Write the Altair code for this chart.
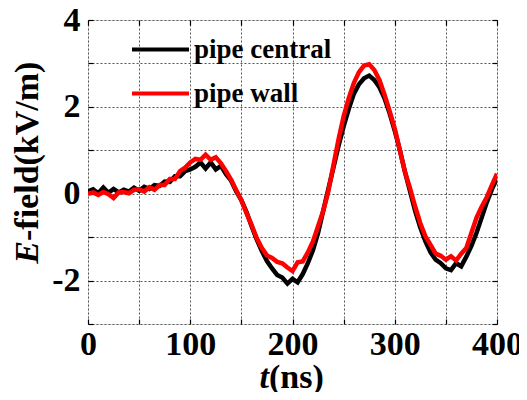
import altair as alt
import pandas as pd

# ---------------- data ----------------
time_ns = list(range(0, 401, 5))

pipe_central = [
    0.05, 0.10, 0.01, 0.14, 0.02, 0.11, 0.03, 0.09, 0.05, 0.14,
    0.07, 0.16, 0.11, 0.20, 0.18, 0.28, 0.27, 0.40, 0.40, 0.52,
    0.56, 0.62, 0.72, 0.58, 0.72, 0.56, 0.64, 0.45, 0.30, 0.05,
    -0.15, -0.42, -0.75, -1.05, -1.32, -1.55, -1.72, -1.87, -1.93, -2.07,
    -1.96, -2.04, -1.85, -1.60, -1.30, -0.90, -0.40, 0.10, 0.60, 1.10,
    1.55, 1.95, 2.30, 2.52, 2.66, 2.72, 2.62, 2.45, 2.20, 1.85,
    1.45, 1.00, 0.50, 0.05, -0.40, -0.78, -1.10, -1.35, -1.52, -1.60,
    -1.72, -1.76, -1.60, -1.67, -1.45, -1.20, -0.90, -0.55, -0.20, 0.10,
    0.35,
]

pipe_wall = [
    0.00, 0.03, -0.03, 0.04, -0.01, -0.10, 0.03, 0.04, 0.01, 0.09,
    0.10, 0.05, 0.15, 0.09, 0.20, 0.20, 0.34, 0.34, 0.52, 0.60,
    0.72, 0.80, 0.78, 0.90, 0.78, 0.84, 0.70, 0.52, 0.32, 0.08,
    -0.15, -0.45, -0.72, -1.02, -1.25, -1.42, -1.48, -1.57, -1.60, -1.70,
    -1.78, -1.58, -1.56, -1.35, -1.10, -0.75, -0.40, 0.05, 0.65, 1.25,
    1.78, 2.20, 2.55, 2.80, 2.95, 2.98, 2.85, 2.62, 2.28, 1.90,
    1.50, 1.00, 0.50, 0.12, -0.30, -0.68, -0.98, -1.18, -1.38, -1.43,
    -1.52, -1.44, -1.54, -1.38, -1.25, -0.90, -0.55, -0.30, -0.08, 0.20,
    0.46,
]

series_names = ["pipe central", "pipe wall"]
series_colors = ["#000000", "#ff0000"]
x_ticks = [0, 50, 100, 150, 200, 250, 300, 350, 400]
y_ticks = [-3, -2, -1, 0, 1, 2, 3, 4]

df = pd.DataFrame({
    "t": time_ns + time_ns,
    "E": pipe_central + pipe_wall,
    "series": [series_names[0]] * len(time_ns) + [series_names[1]] * len(time_ns),
})

FONT = "Liberation Serif, Times New Roman, serif"
W, H = 409, 304

x_scale = alt.Scale(domain=[0, 400], nice=False, zero=False)
y_scale = alt.Scale(domain=[-3, 4], nice=False, zero=False)

common_axis = dict(
    tickSize=5, offset=-5, domain=False, tickColor="black", tickWidth=1.2,
    labelFont=FONT, labelFontSize=34, labelFontWeight="bold", labelColor="black",
    labelOverlap=False, labelFlush=False, title=None,
)

lines = alt.Chart(df).mark_line(strokeWidth=4.5, clip=True).encode(
    x=alt.X("t:Q", scale=x_scale, axis=alt.Axis(
        orient="bottom", values=x_ticks, grid=True, gridDash=[2, 2],
        gridColor="#555555", gridWidth=1, labelPadding=3,
        labelExpr="datum.value % 100 == 0 ? datum.label : ''", **common_axis)),
    y=alt.Y("E:Q", scale=y_scale, axis=alt.Axis(
        orient="left", values=y_ticks, grid=True, gridDash=[2, 2],
        gridColor="#555555", gridWidth=1, labelPadding=8,
        labelExpr="datum.value % 2 == 0 ? (datum.value < 0 ? '-' + abs(datum.value) : '' + datum.value) : ''",
        **common_axis)),
    color=alt.Color("series:N", scale=alt.Scale(domain=series_names, range=series_colors),
                    legend=alt.Legend(
                        orient="none", legendX=42, legendY=-1, title=None,
                        symbolType="stroke", symbolSize=3249, symbolStrokeWidth=4,
                        labelFont=FONT, labelFontSize=27, labelFontWeight="bold",
                        labelColor="black", labelOffset=3, rowPadding=-8, padding=0)),
)

frame_ticks = alt.Chart(df).mark_line(opacity=0).encode(
    x=alt.X("t:Q", scale=x_scale, axis=alt.Axis(
        orient="top", values=x_ticks, labels=False, grid=False,
        tickSize=5, offset=-5, domain=False, tickColor="black", tickWidth=1.2, title=None)),
    y=alt.Y("E:Q", scale=y_scale, axis=alt.Axis(
        orient="right", values=y_ticks, labels=False, grid=False,
        tickSize=5, offset=-5, domain=False, tickColor="black", tickWidth=1.2, title=None)),
)

title_style = dict(font=FONT, fontSize=34, fontWeight="bold", color="black")

x_title_t = alt.Chart(pd.DataFrame({"s": ["t"]})).mark_text(
    align="right", baseline="alphabetic", fontStyle="italic", **title_style
).encode(x=alt.value(181), y=alt.value(368), text="s:N")

x_title_rest = alt.Chart(pd.DataFrame({"s": ["(ns)"]})).mark_text(
    align="left", baseline="alphabetic", **title_style
).encode(x=alt.value(181), y=alt.value(368), text="s:N")

y_title_e = alt.Chart(pd.DataFrame({"s": ["E"]})).mark_text(
    align="right", baseline="alphabetic", angle=270, fontStyle="italic", **title_style
).encode(x=alt.value(-50), y=alt.value(221), text="s:N")

y_title_rest = alt.Chart(pd.DataFrame({"s": ["-field(kV/m)"]})).mark_text(
    align="left", baseline="alphabetic", angle=270, **title_style
).encode(x=alt.value(-50), y=alt.value(221), text="s:N")

chart = alt.layer(
    lines, frame_ticks, x_title_t, x_title_rest, y_title_e, y_title_rest
).resolve_axis(x="independent", y="independent").properties(
    width=W, height=H,
    autosize=alt.AutoSizeParams(type="none"),
    padding={"left": 80, "top": 12, "right": 22, "bottom": 68},
).configure_view(stroke="#222222", strokeWidth=1.5).configure(background="white")

chart.save("out.html", embed_options={"renderer": "svg", "actions": False})
